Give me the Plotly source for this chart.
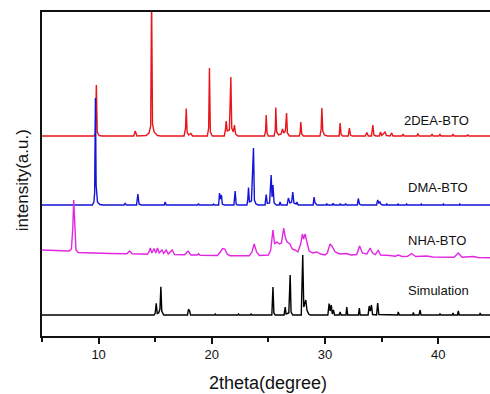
import plotly.graph_objects as go

# ---- data: (2theta, intensity above own baseline) ----
red_pts = [(5.0,0),(9.6,0),(9.72,3),(9.8,51),(9.88,4),(10.05,0.5),(10.3,0),
 (13.1,0),(13.24,5),(13.38,0),
 (14.2,0.5),(14.45,3),(14.6,10),(14.68,140),(14.76,12),(14.9,4),(15.2,0.5),(15.5,0),
 (17.55,0),(17.68,8),(17.74,27.5),(17.82,4),(17.95,1),(18.15,2.5),(18.3,0),
 (19.6,0),(19.72,8),(19.79,68),(19.87,4),(20.05,0),
 (21.1,0),(21.2,6),(21.27,15),(21.36,5),(21.55,6),(21.68,59),(21.76,8),(21.9,4),(22.0,11),(22.1,2),(22.3,0),
 (24.65,0),(24.75,5),(24.8,21),(24.88,3),(25.0,0),
 (25.5,0),(25.6,6),(25.65,28.5),(25.73,4),(25.9,1),(26.12,2),(26.24,7),(26.36,3),(26.5,5),(26.6,23),(26.68,3),(26.85,0),
 (27.72,0),(27.8,3),(27.86,14),(27.94,2),(28.1,0),
 (29.55,0),(29.65,6),(29.72,28),(29.8,5),(29.95,1),(30.2,0),
 (31.25,0),(31.33,13),(31.42,1.5),(31.55,0),
 (32.05,0),(32.15,8),(32.25,1),(32.4,0),
 (33.55,0),(33.7,3.5),(33.82,0),
 (34.1,0),(34.22,11),(34.32,1),(34.5,0),
 (34.8,0),(34.9,4),(35.0,0.5),(35.3,4),(35.42,0.5),(35.75,0),(35.88,3),(36.0,0),
 (36.8,0),(36.9,2),(37.0,0),
 (38.1,0),(38.2,2.5),(38.3,0),
 (39.35,0),(39.45,2),(39.55,0),
 (40.05,0),(40.15,1.5),(40.25,0),
 (41.2,0),(41.3,1.5),(41.4,0),
 (42.5,0),(42.6,1),(42.7,0),
 (44.6,0)]

blue_pts = [(5,0),(9.45,0),(9.58,3),(9.65,12),(9.72,107),(9.78,20),(9.9,3),(10.1,0.5),(10.4,0),
 (12.25,0),(12.35,2),(12.45,0),
 (13.35,0),(13.47,11),(13.57,1),(13.75,0),
 (15.8,0),(15.88,3),(15.98,0),
 (18.75,0),(18.82,1.5),(18.9,0),
 (20.1,0),(20.15,1),(20.25,0),
 (20.6,0),(20.68,12),(20.76,6),(20.85,10),(20.93,1),(21.1,0),
 (21.95,0),(22.06,14),(22.15,1),(22.3,0),
 (23.1,0),(23.18,6),(23.24,17.5),(23.32,3),(23.5,4),(23.68,57),(23.76,5),(23.9,1),(24.1,0),
 (24.7,0),(24.8,10.5),(24.9,1.5),(25.1,2),(25.24,30),(25.32,8),(25.4,20),(25.5,2),(25.7,0),
 (25.95,0),(26.03,3),(26.12,0),
 (26.65,0),(26.76,7),(26.9,2),(27.05,3),(27.15,13),(27.25,2),(27.45,1),(27.52,3),(27.62,0),
 (28.95,0),(29.03,8),(29.12,2),(29.3,0),
 (30.1,0),(30.15,1.5),(30.22,0),
 (30.65,0),(30.72,1.7),(30.8,0),
 (31.3,0),(31.35,1.5),(31.42,0),
 (31.75,0),(31.82,1.5),(31.9,0),
 (32.85,0),(32.94,6.5),(33.04,1),(33.2,0),
 (34.55,0),(34.65,5),(34.75,2),(34.85,3),(34.95,0.5),(35.1,0),
 (35.4,0),(35.45,1.5),(35.52,0),
 (36.4,0),(36.45,1),(36.52,0),
 (37.15,0),(37.2,1),(37.28,0),
 (38.45,0),(38.5,1),(38.57,0),
 (40.4,0),(40.45,1),(40.52,0),
 (41.85,0),(41.9,1),(41.97,0),
 (44.6,0)]

magenta_pts = [(5,8),(6,7.5),(7.4,7),(7.6,9),(7.72,30),(7.8,58),(7.88,30),(8.0,8),(8.2,5.5),(9,5),(10,4.8),(11,4.5),
 (12.5,4.3),(12.73,7),(12.95,4.2),(14.3,3.8),
 (14.45,6),(14.56,10),(14.7,5),(14.9,9.5),(15.05,5),(15.2,10),(15.35,5),(15.6,8),(15.75,4.5),(15.97,8),(16.15,4),
 (16.5,8),(16.7,3.5),(17.6,3.2),(17.9,7),(18.15,3),
 (18.7,3),(18.82,4.5),(18.95,2.8),(20.5,2.5),(20.75,6),(20.95,9.5),(21.15,9),(21.35,4),(21.6,2.3),
 (23.3,2.2),(23.55,6),(23.74,14),(23.95,6),(24.2,2.5),(25.0,3),(25.2,8),(25.4,28),(25.55,14),(25.75,16),
 (25.97,14),(26.15,15),(26.35,30),(26.5,20),(26.65,16),(26.9,14),(27.1,9),(27.35,8),(27.6,6),(27.85,14),
 (28.0,24),(28.1,19),(28.24,24),(28.4,16),(28.6,7),(28.9,5),(29.27,6),(29.6,4),(30.0,3),(30.2,5),(30.44,14),
 (30.6,12),(30.9,6),(31.3,4),(31.9,4.5),(32.3,3),(32.8,3.5),(33.05,12),(33.3,5),(33.7,4),(33.98,10),(34.2,5),
 (34.45,3.5),(34.7,8),(34.9,3),(35.7,2.5),(36.2,1.8),(36.47,3),(36.8,1.5),(37.3,1.8),(37.65,4.5),(38.0,1.5),
 (38.98,2),(39.5,1),(41.4,0.8),(41.77,5),(42.1,0.8),(43.1,1.5),(43.5,0.5),(44.6,0.3)]

black_pts = [(5,0),(14.9,0),(15.0,2),(15.09,11.7),(15.18,1.5),(15.3,2),(15.42,6),(15.5,28.3),(15.58,4),(15.75,0),
 (17.85,0),(17.94,5.7),(18.03,4.5),(18.12,0),
 (20.25,0),(20.3,1),(20.36,0),
 (22.3,0),(22.35,1),(22.42,0),
 (23.42,0),(23.47,1),(23.54,0),
 (25.3,0),(25.4,28),(25.48,2),(25.6,0),
 (26.38,0),(26.48,8),(26.56,1),(26.8,2),(26.92,40),(27.0,3),(27.15,0),
 (27.9,0),(28.03,60),(28.12,8),(28.3,15),(28.4,5),(28.55,1),(28.7,0),
 (30.25,0),(30.36,11.5),(30.45,4),(30.55,10),(30.64,1),(30.74,5),(30.84,0),
 (31.25,0),(31.33,3),(31.42,0),
 (31.85,0),(31.92,8),(32.0,0),
 (32.95,0),(33.03,7),(33.1,0),
 (33.8,0),(33.9,9),(34.0,4),(34.1,10),(34.2,0.5),
 (34.55,0),(34.65,12),(34.75,0.5),
 (36.4,0),(36.47,3),(36.55,0),
 (37.75,0),(37.8,2.5),(37.87,0),
 (38.3,0),(38.4,5),(38.48,0),
 (40.1,0),(40.15,1.5),(40.22,0),
 (41.25,0),(41.3,2),(41.37,0),
 (41.7,0),(41.77,4),(41.85,0),
 (43.65,0),(43.7,2),(43.77,0),
 (44.6,0)]

series_names = ["2DEA-BTO", "DMA-BTO", "NHA-BTO", "Simulation"]
series_pts = [red_pts, blue_pts, magenta_pts, black_pts]
series_offsets = [200, 131, 78, 21]
series_colors = ["#e8161b", "#1414d8", "#e226e2", "#000000"]
label_x = [39.8, 40.0, 39.9, 40.0]
label_y = [216, 149, 96, 46]

FONT = "Arial, Liberation Sans, sans-serif"
fig = go.Figure()
for name, pts, off, col in zip(series_names, series_pts, series_offsets, series_colors):
    xs = [p[0] for p in pts]
    ys = [p[1] + off for p in pts]
    fig.add_trace(go.Scatter(x=xs, y=ys, mode="lines", name=name,
                             line=dict(color=col, width=1.4), showlegend=False))

for name, lx, ly in zip(series_names, label_x, label_y):
    fig.add_annotation(x=lx, y=ly, text=name, showarrow=False,
                       xanchor="center", yanchor="middle",
                       font=dict(family=FONT, size=13, color="#111"))

# axis titles
fig.add_annotation(xref="paper", yref="paper", x=-0.0446, y=0.481, text="intensity(a.u.)",
                   textangle=-90, showarrow=False, xanchor="center", yanchor="middle",
                   font=dict(family=FONT, size=17, color="#111"))
fig.add_annotation(xref="paper", yref="paper", x=0.504, y=-0.145, text="2theta(degree)",
                   showarrow=False, xanchor="center", yanchor="middle",
                   font=dict(family=FONT, size=18, color="#111"))

fig.update_layout(
    width=490, height=394,
    margin=dict(l=42, r=0, t=12, b=58, autoexpand=False),
    paper_bgcolor="white", plot_bgcolor="white",
    font=dict(family=FONT, color="#111"),
)
fig.update_xaxes(range=[5, 44.57], tickmode="linear", tick0=0, dtick=10,
                 ticks="outside", ticklen=6, tickwidth=1.5, tickcolor="#111",
                 minor=dict(tickmode="linear", tick0=5, dtick=5, ticks="outside", ticklen=4, tickcolor="#111", tickwidth=1.5),
                 showline=True, linecolor="#111", linewidth=1.6, mirror=True,
                 showgrid=False, zeroline=False, automargin=False,
                 tickfont=dict(size=13, family=FONT))
fig.update_yaxes(range=[0, 324], showticklabels=False, ticks="",
                 showline=True, linecolor="#111", linewidth=1.6, mirror=False,
                 showgrid=False, zeroline=False, automargin=False)

fig.write_html("out.html", config={"displayModeBar": False},
               post_script="document.body.style.margin='0px';document.body.style.overflow='hidden';")
